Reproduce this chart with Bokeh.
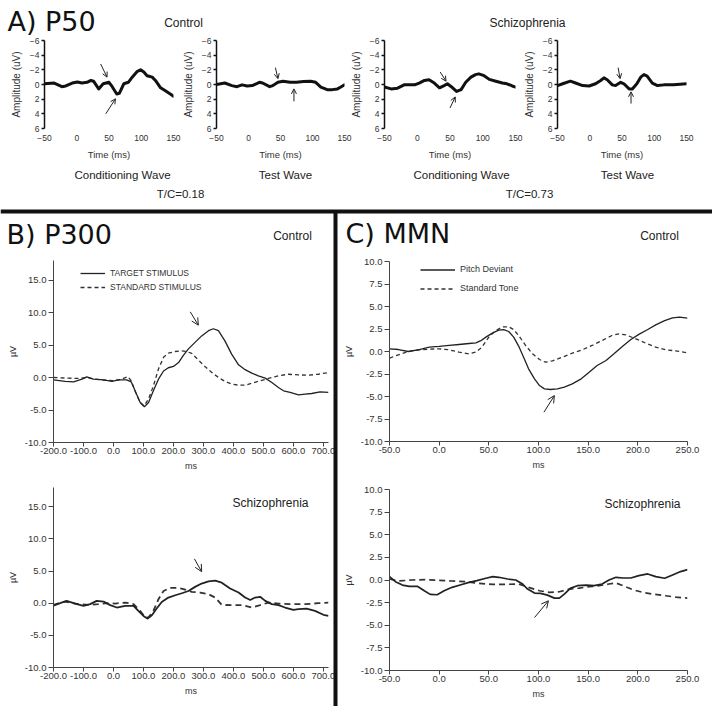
from bokeh.plotting import figure
from bokeh.layouts import column
from bokeh.models import (Range1d, FixedTicker, Arrow, OpenHead, Legend,
                          LegendItem, NumeralTickFormatter)
from bokeh.core.properties import value
from bokeh.embed import file_html
from bokeh.resources import INLINE

# ---------------- data ----------------
# A) P50 (time in ms, amplitude in uV; negative plotted up)
a_xticks = [-50, 0, 50, 100, 150]
a_yticks = [-6, -4, -2, 0, 2, 4, 6]

a_cc_t = [-50, -35, -23, -17, -7, 1, 8, 16, 22, 26, 34, 41, 50, 55, 62, 66, 73, 80, 86, 94, 99, 104, 109, 117, 122, 130, 138, 145, 150]
a_cc_v = [-0.1, -0.2, 0.3, 0.2, -0.2, -0.35, -0.2, -0.3, -0.55, -0.45, 0.6, -0.1, -0.3, 0.3, 1.3, 1.2, -0.1, -0.3, -1.0, -1.8, -2.0, -1.7, -1.2, -1.0, -0.55, 0.45, 0.9, 1.3, 1.6]

a_ct_t = [-50, -37, -26, -18, -10, -2, 6, 17, 22, 33, 38, 46, 54, 65, 75, 86, 97, 105, 113, 123, 131, 139, 145, 150]
a_ct_v = [0, -0.2, 0.15, 0.3, 0.05, 0.2, 0.15, -0.3, -0.2, 0.3, 0.15, -0.3, -0.45, -0.3, -0.3, -0.4, -0.45, -0.3, 0.35, 0.7, 0.7, 0.6, 0.3, 0.05]

a_sc_t = [-50, -40, -30, -20, -4, 3, 11, 18, 26, 34, 41, 46, 54, 60, 67, 74, 82, 89, 94, 102, 110, 120, 130, 137, 145, 150]
a_sc_v = [0.35, 0.6, 0.5, 0.05, 0.05, -0.2, -0.55, -0.65, -0.2, 0.45, 0.15, -0.1, 0.45, 0.95, 0.7, -0.3, -1.0, -1.35, -1.45, -1.2, -0.7, -0.45, -0.2, -0.1, 0.2, 0.35]

a_st_t = [-50, -42, -30, -22, -11, -1, 9, 17, 22, 27, 35, 40, 48, 53, 61, 66, 73, 79, 84, 89, 97, 105, 115, 130, 150]
a_st_v = [0.15, -0.1, -0.45, -0.2, 0.15, 0.2, -0.1, -0.55, -0.9, -0.65, 0.05, 0.15, -0.3, -0.1, 0.6, 0.6, -0.1, -1.0, -1.35, -1.15, -0.2, 0.15, 0.05, 0.05, -0.1]

# arrows: (x_start, y_start, x_end, y_end)
a_cc_arrows = [(37, -2.8, 47, -1.0), (45, 4.0, 60, 1.95)]
a_ct_arrows = [(42, -2.3, 46, -0.8), (71, 2.3, 71, 0.6)]
a_sc_arrows = [(35, -1.7, 44, -0.45), (50, 3.2, 58, 1.7)]
a_st_arrows = [(44, -2.3, 47, -0.8), (64, 2.6, 64, 1.0)]

# B) P300
b_xticks = [-200, -100, 0, 100, 200, 300, 400, 500, 600, 700]
b_yticks = [-10, -5, 0, 5, 10, 15]
b_labels = ["TARGET STIMULUS", "STANDARD STIMULUS"]

b_c_t_t = [-200, -161, -133, -105, -89, -67, -33, -5, 17, 44, 59, 72, 89, 103, 117, 133, 150, 167, 183, 200, 217, 233, 250, 272, 294, 317, 333, 350, 372, 394, 417, 439, 461, 483, 506, 528, 550, 567, 589, 617, 639, 661, 689, 717]
b_c_t_v = [-0.36, -0.6, -0.67, -0.26, 0.1, -0.26, -0.36, -0.6, -0.36, -0.36, -0.67, -2.05, -3.85, -4.5, -3.85, -2.05, -0.26, 1.0, 1.5, 1.7, 2.3, 3.4, 4.4, 5.4, 6.4, 7.2, 7.5, 7.2, 5.6, 3.6, 1.95, 1.2, 0.67, 0.26, -0.1, -0.77, -1.54, -2.05, -2.3, -2.67, -2.56, -2.46, -2.2, -2.3]
b_c_s_t = [-200, -150, -117, -89, -61, -33, 0, 28, 48, 59, 74, 89, 102, 117, 133, 150, 167, 183, 206, 228, 244, 261, 283, 306, 328, 350, 372, 394, 417, 439, 461, 489, 517, 550, 583, 617, 650, 683, 717]
b_c_s_v = [0, -0.1, -0.15, 0, -0.26, -0.4, -0.5, -0.26, 0.15, -0.5, -2.3, -3.85, -4.36, -3.3, -1.3, 1.3, 3.1, 3.75, 4.0, 4.1, 4.0, 3.7, 2.7, 1.64, 0.77, 0, -0.6, -1.0, -1.18, -1.18, -0.9, -0.5, -0.15, 0.26, 0.5, 0.4, 0.36, 0.5, 0.77]

b_s_t_t = [-200, -178, -156, -128, -100, -78, -56, -33, -11, 11, 39, 67, 83, 100, 114, 128, 144, 161, 183, 206, 228, 250, 272, 294, 317, 339, 361, 389, 417, 439, 456, 472, 489, 506, 528, 550, 572, 600, 617, 644, 672, 700, 717]
b_s_t_v = [-0.4, 0, 0.36, -0.05, -0.4, -0.15, 0.36, 0.26, -0.3, -0.67, -0.4, -0.4, -1.2, -1.97, -2.4, -1.87, -0.83, 0.2, 0.88, 1.24, 1.55, 1.9, 2.54, 3.06, 3.4, 3.5, 3.2, 2.28, 1.66, 0.88, 0.5, 0.88, 1.0, 0.36, -0.15, -0.3, -0.67, -1.04, -0.93, -0.83, -1.2, -1.8, -1.97]
b_s_s_t = [-200, -161, -117, -78, -50, -22, 6, 39, 67, 89, 106, 117, 133, 150, 167, 189, 211, 233, 261, 289, 317, 339, 361, 394, 428, 461, 489, 517, 550, 594, 639, 683, 717]
b_s_s_v = [-0.26, 0.26, -0.15, -0.26, -0.15, 0, -0.05, 0.1, -0.15, -1.2, -2.2, -2.2, -1.2, 0.62, 1.9, 2.4, 2.4, 2.2, 1.76, 1.66, 1.4, 0.88, -0.26, -0.3, -0.3, -0.67, -0.3, 0.1, -0.05, -0.15, -0.15, 0, 0.1]

b_c_arrow = (256, 10.1, 283, 8.05)
b_s_arrow = (270, 6.9, 294, 4.9)

# C) MMN
c_xticks = [-50, 0, 50, 100, 150, 200, 250]
c_yticks = [-10, -7.5, -5, -2.5, 0, 2.5, 5, 7.5, 10]
c_labels = ["Pitch Deviant", "Standard Tone"]

c_c_d_t = [-50, -41, -31, -20, -10, 0, 10, 20, 30, 37, 42, 47, 54, 60, 65, 70, 75, 80, 85, 90, 96, 101, 106, 112, 119, 126, 134, 143, 151, 159, 168, 176, 185, 193, 201, 210, 218, 227, 235, 242, 250]
c_c_d_v = [0.3, 0.22, 0, 0.22, 0.48, 0.56, 0.67, 0.78, 0.89, 0.96, 1.2, 1.6, 2.07, 2.37, 2.44, 2.22, 1.6, 0.6, -0.63, -1.93, -3.04, -3.78, -4.15, -4.22, -4.15, -3.96, -3.6, -3.04, -2.3, -1.56, -1.0, -0.26, 0.6, 1.33, 1.9, 2.44, 2.96, 3.44, 3.74, 3.81, 3.7]
c_c_s_t = [-50, -41, -31, -20, -10, 0, 10, 20, 30, 37, 43, 50, 57, 64, 70, 75, 80, 87, 94, 101, 107, 114, 124, 134, 144, 154, 164, 174, 181, 188, 198, 208, 218, 228, 238, 250]
c_c_s_v = [-0.74, -0.37, 0, 0.19, 0.26, 0.3, 0.19, -0.07, -0.26, -0.07, 0.48, 1.6, 2.33, 2.74, 2.74, 2.44, 1.78, 0.67, -0.26, -0.89, -1.19, -1.04, -0.63, -0.19, 0.19, 0.67, 1.22, 1.78, 1.96, 1.85, 1.41, 0.93, 0.48, 0.19, 0.07, -0.15]

c_s_d_t = [-50, -44, -37, -30, -22, -15, -9, -2, 5, 13, 22, 30, 38, 47, 54, 60, 69, 77, 84, 89, 96, 102, 109, 116, 121, 126, 132, 139, 148, 156, 164, 171, 178, 185, 193, 201, 210, 218, 227, 235, 243, 250]
c_s_d_v = [0.37, -0.19, -0.56, -0.7, -0.7, -1.19, -1.59, -1.63, -1.19, -0.81, -0.52, -0.26, -0.07, 0.19, 0.37, 0.3, 0.11, 0, -0.44, -1.0, -1.44, -1.48, -1.67, -2.0, -2.0, -1.56, -0.93, -0.63, -0.56, -0.63, -0.44, 0, 0.3, 0.22, 0.22, 0.48, 0.67, 0.37, 0.19, 0.56, 0.93, 1.15]
c_s_s_t = [-50, -41, -27, -14, 0, 13, 27, 40, 54, 67, 80, 90, 101, 111, 121, 131, 141, 151, 161, 171, 178, 185, 195, 205, 215, 228, 238, 250]
c_s_s_v = [0.11, -0.11, 0, 0.04, -0.04, -0.11, -0.19, -0.37, -0.48, -0.48, -0.44, -0.81, -1.19, -1.37, -1.3, -1.0, -0.89, -0.74, -0.63, -0.44, -0.33, -0.63, -1.07, -1.37, -1.56, -1.74, -1.89, -2.0]

c_c_arrow = (105.5, -6.74, 116, -4.9)
c_s_arrow = (96, -4.15, 110, -2.3)

# texts
headings = ["A) P50", "B) P300", "C) MMN"]
group_labels = ["Control", "Schizophrenia", "Control", "Schizophrenia", "Control", "Schizophrenia"]
sub_labels = ["Conditioning Wave", "Test Wave", "Conditioning Wave", "Test Wave", "T/C=0.18", "T/C=0.73"]

# ---------------- layout helpers ----------------
OX, OY = 0, 0          # page origin of the layer stack
PW, PH = 712, 706      # every layer covers the whole page
RX1, RY1 = OX + PW, OY + PH
SANS = "Liberation Sans"
INK = "#222222"


def panel(fx0, fy0, fx1, fy1, xr, yr, first=False):
    p = figure(width=PW, height=PH, x_range=Range1d(*xr), y_range=Range1d(*yr),
               output_backend="svg", toolbar_location=None,
               min_border_left=fx0 - OX, min_border_top=fy0 - OY,
               min_border_right=RX1 - fx1, min_border_bottom=RY1 - fy1)
    p.frame_align = False
    p.background_fill_alpha = 0
    p.border_fill_alpha = 0
    p.outline_line_color = None
    p.xgrid.visible = False
    p.ygrid.visible = False
    if not first:
        p.margin = (-PH, 0, 0, 0)   # stack every layer on top of the first one
    return p


def style_axis(ax, size, line_color="#444444", lw=1, tick_out=4, standoff=2,
               label_size="9px", label_standoff=5):
    ax.axis_line_color = line_color
    ax.axis_line_width = lw
    ax.major_tick_line_color = line_color
    ax.major_tick_line_width = lw
    ax.major_tick_out = tick_out
    ax.major_tick_in = 0
    ax.minor_tick_line_color = None
    ax.major_label_text_font = SANS
    ax.major_label_text_font_size = size
    ax.major_label_text_color = "#333333"
    ax.major_label_standoff = standoff
    ax.axis_label_text_font = SANS
    ax.axis_label_text_font_style = "normal"
    ax.axis_label_text_font_size = label_size
    ax.axis_label_text_color = "#333333"
    ax.axis_label_standoff = label_standoff


def add_arrow(p, a, size=6):
    p.add_layout(Arrow(end=OpenHead(size=size, line_width=1, line_color=INK),
                       x_start=a[0], y_start=a[1], x_end=a[2], y_end=a[3],
                       line_width=1, line_color=INK))


figs = []

# ---- A) P50 panels ----
for i, (fx0, fx1, t, v, arrs) in enumerate([(44, 173, a_cc_t, a_cc_v, a_cc_arrows),
                                            (216, 344, a_ct_t, a_ct_v, a_ct_arrows),
                                            (384, 515, a_sc_t, a_sc_v, a_sc_arrows),
                                            (557, 686, a_st_t, a_st_v, a_st_arrows)]):
    p = panel(fx0, 40, fx1, 128, (-50, 150), (6, -6), first=(i == 0))
    p.line(t, v, line_color="#111111", line_width=3, line_join="round", line_cap="round")
    for a in arrs:
        add_arrow(p, a, size=5)
    xa, ya = p.xaxis[0], p.yaxis[0]
    xa.ticker = FixedTicker(ticks=a_xticks)
    ya.ticker = FixedTicker(ticks=a_yticks)
    style_axis(xa, "8.5px", tick_out=0, standoff=6, label_size="9.5px", label_standoff=5)
    xa.axis_line_color = None
    xa.major_tick_line_color = None
    style_axis(ya, "8.5px", line_color="#111111", lw=1.5, tick_out=3, standoff=2,
               label_size="10px", label_standoff=5)
    xa.axis_label = "Time (ms)"
    ya.axis_label = "Amplitude (uV)"
    figs.append(p)


# ---- B) P300 and C) MMN panels ----
def wave_panel(fx0, fy0, fx1, fy1, xr, yr, xt, yt, sol_t, sol_v, dash_t, dash_v,
               arrow, dash, lw, legend=None):
    p = panel(fx0, fy0, fx1, fy1, xr, yr)
    r2 = p.line(dash_t, dash_v, line_color="#333333", line_width=lw, line_dash=dash)
    r1 = p.line(sol_t, sol_v, line_color="#222222", line_width=lw)
    add_arrow(p, arrow, size=7)
    xa, ya = p.xaxis[0], p.yaxis[0]
    xa.ticker = FixedTicker(ticks=xt)
    ya.ticker = FixedTicker(ticks=yt)
    xa.formatter = NumeralTickFormatter(format="0.0")
    ya.formatter = NumeralTickFormatter(format="0.0")
    style_axis(xa, "9.5px", tick_out=4, standoff=1, label_size="9px", label_standoff=4)
    style_axis(ya, "9.5px", tick_out=5, standoff=2, label_size="9px", label_standoff=4)
    xa.axis_label = "ms"
    ya.axis_label = "µV"
    if legend is not None:
        labels, loc, gw, gh, fs = legend
        leg = Legend(items=[LegendItem(label=labels[0], renderers=[r1]),
                            LegendItem(label=labels[1], renderers=[r2])],
                     location=loc, padding=0, margin=0, spacing=0,
                     glyph_width=gw, glyph_height=gh, label_height=gh,
                     label_standoff=5, border_line_color=None,
                     background_fill_alpha=0,
                     label_text_font=SANS, label_text_font_size=fs,
                     label_text_color="#333333")
        p.add_layout(leg)
    return p


figs.append(wave_panel(53, 260, 328, 442, (-200, 717), (-10, 18), b_xticks, b_yticks,
                       b_c_t_t, b_c_t_v, b_c_s_t, b_c_s_v, b_c_arrow, "4 3", 1.3,
                       legend=(b_labels, (27, 148), 25, 14, "8.5px")))
figs.append(wave_panel(53, 487, 328, 667, (-200, 717), (-10, 18), b_xticks, b_yticks,
                       b_s_t_t, b_s_t_v, b_s_s_t, b_s_s_v, b_s_arrow, "6 4", 1.8))
figs.append(wave_panel(389, 261, 687, 441, (-50, 250), (-10, 10), c_xticks, c_yticks,
                       c_c_d_t, c_c_d_v, c_c_s_t, c_c_s_v, c_c_arrow, "4 3", 1.3,
                       legend=(c_labels, (31, 143.5), 35, 19, "9px")))
figs.append(wave_panel(389, 489, 687, 670, (-50, 250), (-10, 10), c_xticks, c_yticks,
                       c_s_d_t, c_s_d_v, c_s_s_t, c_s_s_v, c_s_arrow, "6 4", 1.7))

# ---- overlay layer: headings, captions, dividers (page coordinates) ----
ov = figure(width=PW, height=PH, x_range=Range1d(OX, RX1), y_range=Range1d(RY1, OY),
            output_backend="svg", toolbar_location=None,
            x_axis_type=None, y_axis_type=None,
            min_border_left=0, min_border_right=0, min_border_top=0, min_border_bottom=0)
ov.frame_align = False
ov.background_fill_alpha = 0
ov.border_fill_alpha = 0
ov.outline_line_color = None
ov.margin = (-PH, 0, 0, 0)
ov.segment(x0=[0, 335], y0=[211, 211], x1=[RX1, 335], y1=[211, RY1],
           line_color="#111111", line_width=4)
ov.text(x=[7, 6, 345], y=[21, 234, 233], text=headings,
        text_font=value("DejaVu Sans"), text_font_size="27px",
        text_align="left", text_baseline="middle", text_color="#111111")
ov.text(x=[183, 527, 292, 270, 659, 642], y=[22, 22, 235, 502, 235, 503], text=group_labels,
        text_font=value(SANS), text_font_size="12px",
        text_align="center", text_baseline="middle", text_color=INK)
ov.text(x=[122, 285, 461, 627, 180, 529], y=[174, 174, 174, 174, 193, 193], text=sub_labels,
        text_font=value(SANS), text_font_size="11.5px",
        text_align="center", text_baseline="middle", text_color=INK)
figs.append(ov)

root = column(*figs, spacing=0)

with open("out.html", "w") as fh:
    fh.write(file_html(root, INLINE))
